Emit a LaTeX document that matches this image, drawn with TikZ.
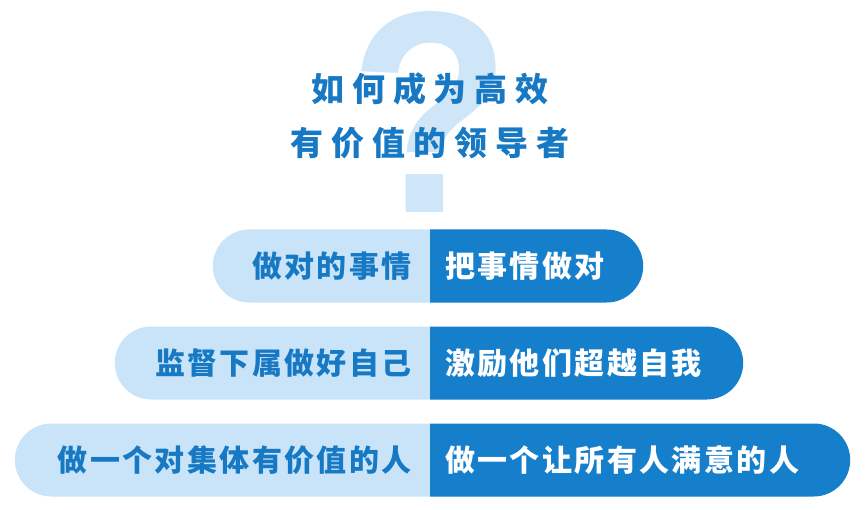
\documentclass[tikz,border=0pt]{standalone}
\usepackage{fontspec}
\usepackage{xcolor}
\usepackage{tikz}
\usetikzlibrary{
    positioning,
    shapes.misc
}
\IfFontExistsTF{Noto Sans CJK SC Black}{%
    \newfontfamily\ldCjk[LetterSpace=8]{Noto Sans CJK SC Black}%
    \newfontfamily\ldCjkWide[LetterSpace=24]{Noto Sans CJK SC Black}%
}{%
    \newfontfamily\ldCjk[LetterSpace=8]{Noto Sans CJK SC Bold}%
    \newfontfamily\ldCjkWide[LetterSpace=24]{Noto Sans CJK SC Bold}%
}
\newfontfamily\ldMarkFont{Liberation Sans Bold}
\definecolor{ldDark}{HTML}{167FCC}
\definecolor{ldLight}{HTML}{C9E4F8}
\definecolor{ldMark}{HTML}{CEE6F8}
\definecolor{ldText}{HTML}{1779C3}
\tikzset{
    ldLeft/.style={
        rounded rectangle,
        rounded rectangle right arc=none,
        fill=ldLight,
        minimum height=73pt,
        inner sep=0pt
    },
    ldRight/.style={
        rounded rectangle,
        rounded rectangle left arc=none,
        fill=ldDark,
        minimum height=73pt,
        inner sep=0pt
    },
    ldLeftText/.style={
        font=\ldCjk\fontsize{30}{30}\selectfont,
        text=ldText,
        inner sep=0pt
    },
    ldRightText/.style={
        font=\ldCjk\fontsize{30}{30}\selectfont,
        text=white,
        inner sep=0pt
    },
    ldTitle/.style={
        font=\ldCjkWide\fontsize{33}{33}\selectfont,
        text=ldText,
        inner sep=0pt
    },
    ldQuestion/.style={
        font=\ldMarkFont\fontsize{288}{288}\selectfont,
        text=ldMark,
        text height=200pt,
        text depth=0pt,
        inner sep=0pt,
        xscale=0.92
    }
}

\begin{document}
\begin{tikzpicture}[x=1pt,y=-1pt]
    \useasboundingbox (0,0) rectangle (866,510);

    % background mark
    \node[ldQuestion,anchor=base] (mark) at (430,213) {?};

    % title
    \node[ldTitle] (title1) at (430,89) {如何成为高效};
    \node[ldTitle] (title2) at (430,143) {有价值的领导者};

    % bars
    \node[ldLeft,minimum width=217pt,anchor=east] (bar1L) at (430,266) {};
    \node[ldRight,minimum width=213pt,anchor=west] (bar1R) at (430,266) {};
    \node[ldLeft,minimum width=315pt,anchor=east] (bar2L) at (430,363) {};
    \node[ldRight,minimum width=313pt,anchor=west] (bar2R) at (430,363) {};
    \node[ldLeft,minimum width=415pt,anchor=east] (bar3L) at (430,460) {};
    \node[ldRight,minimum width=420pt,anchor=west] (bar3R) at (430,460) {};

    % bar labels
    \node[ldLeftText,left=18pt of bar1L.east] (do1) {做对的事情};
    \node[ldRightText,right=15pt of bar1R.west] (do2) {把事情做对};
    \node[ldLeftText,left=18pt of bar2L.east] (watch1) {监督下属做好自己};
    \node[ldRightText,right=15pt of bar2R.west] (watch2) {激励他们超越自我};
    \node[ldLeftText,left=18pt of bar3L.east] (person1) {做一个对集体有价值的人};
    \node[ldRightText,right=15pt of bar3R.west] (person2) {做一个让所有人满意的人};
\end{tikzpicture}
\end{document}
